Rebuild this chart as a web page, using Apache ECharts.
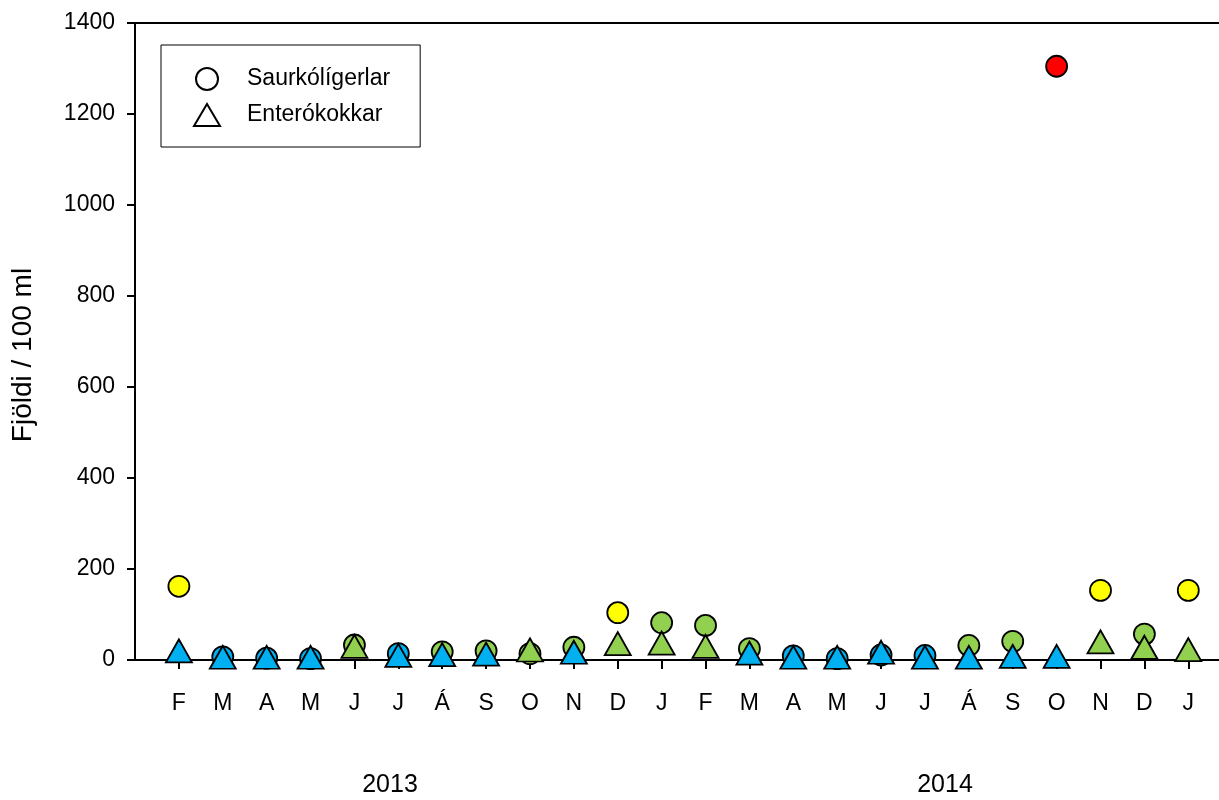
<!DOCTYPE html>
<html>
<head>
<meta charset="utf-8">
<script src="https://cdn.jsdelivr.net/npm/echarts@6/dist/echarts.min.js"></script>
<style>
html,body{margin:0;padding:0;background:#fff;}
#chart{width:1219px;height:800px;}
</style>
</head>
<body>
<div id="chart"></div>
<script>
// ---- data ----
const months = ['F','M','A','M','J','J','Á','S','O','N','D','J','F','M','A','M','J','J','Á','S','O','N','D','J'];
const years = ['2013', '2014'];
const ecoli = [162, 7, 4, 3, 33, 14, 18, 20, 14, 28, 104, 82, 76, 25, 9, 3, 11, 10, 32, 41, 1305, 153, 57, 153];
const ecoliClass = ['y','b','b','b','g','b','g','g','g','g','y','g','g','g','b','b','b','b','g','g','r','y','g','y'];
const entero = [20, 6, 6, 6, 30, 10, 12, 13, 22, 17, 36, 37, 30, 15, 6, 6, 17, 6, 6, 8, 8, 40, 28, 23];
const enteroClass = ['b','b','b','b','g','b','b','b','g','b','g','g','g','b','b','b','b','b','b','b','b','g','g','g'];
const seriesNames = ['Saurkólígerlar', 'Enterókokkar'];
const yTicks = [0, 200, 400, 600, 800, 1000, 1200, 1400];
const yTitle = 'Fjöldi / 100 ml';

const palette = { b: '#00B0F0', g: '#92D050', y: '#FFFF00', r: '#FF0000' };
const font = 'Liberation Sans, Arial, sans-serif';
const idx = months.map((m, i) => i);

function points(values, classes) {
  return values.map((v, i) => ({ value: [i, v], itemStyle: { color: palette[classes[i]] } }));
}

const chart = echarts.init(document.getElementById('chart'), null, { renderer: 'canvas' });
chart.setOption({
  animation: false,
  backgroundColor: '#fff',
  grid: { left: 135, right: 0, top: 23, bottom: 140, containLabel: false },
  xAxis: [{
    type: 'value', min: -1, max: 23.7, position: 'bottom',
    axisLine: { show: true, onZero: false, lineStyle: { color: '#000', width: 2 } },
    axisTick: { show: true, customValues: idx, length: 9, inside: false, lineStyle: { color: '#000', width: 2 } },
    axisLabel: { show: true, customValues: idx, margin: 32, fontSize: 23, color: '#000', fontFamily: font,
      formatter: v => months[Math.round(v)] },
    splitLine: { show: false }
  }, {
    type: 'value', min: -1, max: 23.7, position: 'top',
    axisLine: { show: true, onZero: false, lineStyle: { color: '#000', width: 2 } },
    axisTick: { show: false }, axisLabel: { show: false }, splitLine: { show: false }
  }],
  yAxis: {
    type: 'value', min: 0, max: 1400, interval: 200,
    axisLine: { show: true, onZero: false, lineStyle: { color: '#000', width: 2 } },
    axisTick: { show: true, length: 8, lineStyle: { color: '#000', width: 2 } },
    axisLabel: { margin: 20, fontSize: 23, color: '#000', fontFamily: font,
      customValues: yTicks, formatter: v => String(v) },
    splitLine: { show: false }
  },
  legend: {
    orient: 'vertical', left: 161, top: 45,
    padding: [22, 30, 20, 32], itemGap: 12,
    itemWidth: 26, itemHeight: 22,
    borderColor: '#000', borderWidth: 1, backgroundColor: '#fff',
    textStyle: { fontSize: 23, color: '#000', fontFamily: font, padding: [0, 0, 0, 22] },
    data: [
      { name: seriesNames[0], icon: 'circle', itemStyle: { color: '#fff', borderColor: '#000', borderWidth: 2 } },
      { name: seriesNames[1], icon: 'triangle', itemStyle: { color: '#fff', borderColor: '#000', borderWidth: 2 } }
    ]
  },
  graphic: [
    { type: 'text', x: 23, y: 355, rotation: Math.PI / 2,
      style: { text: yTitle, font: '28px ' + font, fill: '#000', align: 'center', verticalAlign: 'middle' } },
    { type: 'text', x: 390, y: 785,
      style: { text: years[0], font: '25px ' + font, fill: '#000', align: 'center', verticalAlign: 'middle' } },
    { type: 'text', x: 945, y: 785,
      style: { text: years[1], font: '25px ' + font, fill: '#000', align: 'center', verticalAlign: 'middle' } }
  ],
  series: [{
    name: seriesNames[0], type: 'scatter', symbol: 'circle', symbolSize: 21,
    itemStyle: { borderColor: '#000', borderWidth: 1.8, opacity: 1 },
    data: points(ecoli, ecoliClass), z: 2
  }, {
    name: seriesNames[1], type: 'scatter', symbol: 'triangle', symbolSize: [26, 23],
    itemStyle: { borderColor: '#000', borderWidth: 1.8, opacity: 1 },
    data: points(entero, enteroClass), z: 3
  }]
});
</script>
</body>
</html>
